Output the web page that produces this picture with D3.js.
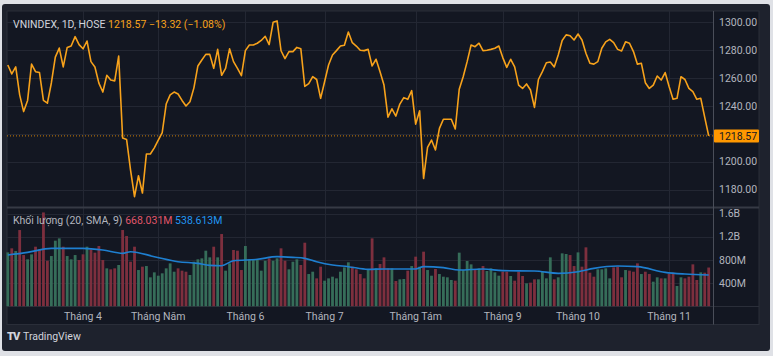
<!DOCTYPE html>
<html><head><meta charset="utf-8">
<script src="https://cdn.jsdelivr.net/npm/d3@7"></script>
<style>
html,body{margin:0;padding:0;background:#dfe1e6;}
svg{display:block;font-family:Roboto,"Liberation Sans",sans-serif;}
</style></head><body>
<svg id="c" width="773" height="356"></svg>
<script>
// Daily closes of VNINDEX (one per trading day, Mar 5 – Nov 15)
const closes = [
1269.4,1263,1268,1248,1236,1244,1270,1264.6,1264,1244,
1242,1256.5,1275,1281.5,1268,1282,1283,1289.7,1284,1281,
1286.6,1271.8,1268,1256.4,1250,1262,1258.6,1258,1275.8,1217,
1216,1194,1175,1190,1177.6,1205.6,1205.6,1210,1215.6,1221,
1241.4,1248,1250,1248.6,1244,1240,1243,1253,1268.7,1273,
1277,1277,1267,1280.6,1262,1267,1281,1271.8,1267,1261.7,
1279.7,1283.7,1283.7,1285,1287,1290,1284,1300,1301,1279.6,
1274,1279,1279,1282,1281,1254,1256,1261,1259,1245.5,
1257.4,1269.4,1276.6,1279.7,1283,1283.5,1293,1285.4,1283,1280,
1279.7,1280.6,1268.7,1273.5,1264.6,1255,1232,1238,1232.8,1241.4,
1246,1244.8,1251,1227,1236.6,1188,1210.4,1215.6,1208.5,1224,
1230.5,1230.5,1230.5,1223.5,1252,1261,1271.8,1283.7,1282.5,1285,
1279.7,1280,1280.6,1281.4,1283,1274.7,1267.7,1273.5,1268,1255,
1252.6,1255.8,1251.5,1239,1259,1264.6,1271,1271.5,1268,1276.6,
1287,1291,1290.4,1287.3,1291.6,1287.3,1277.8,1270.6,1270,1271.8,
1281.4,1286,1287.8,1285.4,1280.6,1279.4,1286,1285,1279,1270,
1270.6,1256.7,1252.6,1255,1261.5,1258.6,1264,1254,1244.8,1245.5,
1261,1259,1252.6,1250.3,1244.8,1245.5,1231.89,1218.57
];
// Daily volume, millions of shares
const volumes = [
930,1000,953,1316,884,810,896,1028,982,1620,
786,867,1132,1172,1028,867,810,884,798,896,
1028,982,925,1040,798,654,637,654,712,1316,
1212,769,1028,625,683,694,499,585,527,568,
654,740,596,654,614,596,539,769,810,827,
959,844,1028,844,1247,614,740,971,959,625,
1040,810,810,810,614,786,827,786,827,1000,
786,637,769,810,712,1097,556,596,481,683,
441,481,510,481,596,671,758,683,637,556,
481,625,1172,654,729,844,654,654,435,464,
470,614,694,856,683,942,625,527,643,556,
510,499,453,441,925,625,781,723,625,654,
694,608,654,585,527,596,596,522,441,596,
522,395,407,464,464,596,481,844,464,499,
913,902,884,694,930,683,1017,579,510,637,
637,654,481,671,683,499,625,614,596,740,
556,596,556,424,499,481,481,556,579,349,
499,481,510,723,453,585,579,668.031
];
// Volume moving average, read at selected bars (bar index, millions)
const maIdx  = [0,5,11,19,24,29,31,37,43,48,51,54,57,63,68,72,75,78,82,86,91,95,103,105,110,114,120,125,133,139,144,148,154,159,166,171,177];
const maVals = [884,930,1000,1000,971,913,942,856,769,740,705,700,786,810,856,844,827,769,712,683,637,643,643,683,666,625,643,614,608,568,596,654,694,683,585,556,538.613];

const monthIdx    = [19,38,60,80,103,125,144,167];
const monthLabels = ["Tháng 4","Tháng Năm","Tháng 6","Tháng 7","Tháng Tám","Tháng 9","Tháng 10","Tháng 11"];
const priceTicks  = [1180,1200,1220,1240,1260,1280,1300];
const volTicks    = [400,800,1200,1600];
const volTickLabels = ["400M","800M","1.2B","1.6B"];

const lastClose = closes[closes.length-1];
const prevClose = closes[closes.length-2];
const lastVol = volumes[volumes.length-1];
const lastMA = maVals[maVals.length-1];

const svg = d3.select("#c");
const L=7, R=713, AX=759, TOP=11, PB=207.5, VB=306.5, TB=324.5;

// frame
svg.append("rect").attr("x",2).attr("y",4).attr("width",768).attr("height",347).attr("rx",3).attr("fill","#1e222d");
svg.append("rect").attr("x",L).attr("y",TOP).attr("width",AX-L).attr("height",TB-TOP).attr("fill","#131722");
svg.append("rect").attr("x",L).attr("y",TOP).attr("width",AX-L).attr("height",TB-TOP).attr("fill","none").attr("stroke","#2a2e39");

const x = d3.scaleLinear().domain([0,closes.length-1]).range([7.8,708.7]);
const yP = d3.scaleLinear().domain([1180,1300]).range([189.7,22.3]);
const yV = d3.scaleLinear().domain([0,1600]).range([306.2,213.6]);

const grid = svg.append("g").attr("stroke","#232733").attr("stroke-width",1);
monthIdx.forEach(i=>{
  const gx=Math.round(x(i))+0.5;
  grid.append("line").attr("x1",gx).attr("x2",gx).attr("y1",TOP).attr("y2",VB);
});
priceTicks.forEach(v=>{
  const gy=Math.round(yP(v))+0.5;
  grid.append("line").attr("x1",L).attr("x2",R).attr("y1",gy).attr("y2",gy);
});
volTicks.forEach(v=>{
  const gy=Math.round(yV(v))+0.5;
  grid.append("line").attr("x1",L).attr("x2",R).attr("y1",gy).attr("y2",gy);
});

// separators
svg.append("line").attr("x1",L).attr("x2",AX).attr("y1",PB).attr("y2",PB).attr("stroke","#363a45").attr("stroke-width",2);
svg.append("line").attr("x1",L).attr("x2",AX).attr("y1",VB).attr("y2",VB).attr("stroke","#2a2e39");
svg.append("line").attr("x1",R+0.5).attr("x2",R+0.5).attr("y1",TOP).attr("y2",TB).attr("stroke","#4a4e59");

// volume bars
const bw=2.8;
svg.append("g").selectAll("rect").data(volumes).join("rect")
  .attr("x",(d,i)=>x(i)-bw/2).attr("width",bw)
  .attr("y",d=>yV(d)).attr("height",d=>yV(0)-yV(d))
  .attr("fill",(d,i)=> (i===0 || closes[i]>=closes[i-1]) ? "#366d59" : "#7d2f3e");

// volume MA
svg.append("path").datum(maIdx.map((d,k)=>[d,maVals[k]]))
  .attr("d",d3.line().x(d=>x(d[0])).y(d=>yV(d[1])).curve(d3.curveMonotoneX))
  .attr("fill","none").attr("stroke","#1e7fd0").attr("stroke-width",1.6);

// last price dotted line
svg.append("line").attr("x1",L).attr("x2",R).attr("y1",yP(lastClose)).attr("y2",yP(lastClose))
  .attr("stroke","#ff9800").attr("stroke-dasharray","1,2").attr("opacity",0.8);

// price line
svg.append("path").datum(closes)
  .attr("d",d3.line().x((d,i)=>x(i)).y(d=>yP(d)))
  .attr("fill","none").attr("stroke","#f7a21b").attr("stroke-width",1.6).attr("stroke-linejoin","round");

// right axis labels
const axT = svg.append("g").attr("fill","#b2b5be").attr("font-size",10.5);
priceTicks.filter(v=>Math.abs(v-lastClose)>8).forEach(v=>{
  axT.append("text").attr("x",719).attr("y",yP(v)).attr("dy","0.35em").text(d3.format(".2f")(v));
});
volTicks.forEach((v,k)=>{
  axT.append("text").attr("x",719).attr("y",yV(v)).attr("dy","0.35em").text(volTickLabels[k]);
});
// last price label
svg.append("rect").attr("x",714).attr("y",yP(lastClose)-6.5).attr("width",45).attr("height",13).attr("rx",1).attr("fill","#ff9800");
svg.append("text").attr("x",719).attr("y",yP(lastClose)).attr("dy","0.35em").attr("font-size",10.5).attr("fill","#131722").text(d3.format(".2f")(lastClose));

// time axis labels
const tl = svg.append("g").attr("fill","#b2b5be").attr("font-size",10.5).attr("text-anchor","middle");
monthIdx.forEach((i,k)=>{
  tl.append("text").attr("x",x(i)).attr("y",316).attr("dy","0.35em").text(monthLabels[k]);
});

// legend top
const chg = lastClose-prevClose, pct = chg/prevClose*100;
const lg = svg.append("text").attr("x",13).attr("y",24).attr("dy","0.35em").attr("font-size",10.5);
lg.append("tspan").attr("fill","#d1d4dc").text("VNINDEX, 1D, HOSE ");
lg.append("tspan").attr("fill","#f7a21b").text(d3.format(".2f")(lastClose)+" ");
lg.append("tspan").attr("fill","#f7a21b").text("\u2212"+d3.format(".2f")(-chg)+" (\u2212"+d3.format(".2f")(-pct)+"%)");

// volume legend
const vl = svg.append("text").attr("x",13).attr("y",220).attr("dy","0.35em").attr("font-size",10.5);
vl.append("tspan").attr("fill","#b2b5be").text("Khối lượng (20, SMA, 9) ");
vl.append("tspan").attr("fill","#e0566a").text(d3.format(".3f")(lastVol)+"M ");
vl.append("tspan").attr("fill","#2196f3").text(d3.format(".3f")(lastMA)+"M");

// TradingView logo
const lo = svg.append("g").attr("fill","#d1d4dc");
lo.append("text").attr("x",7).attr("y",336).attr("dy","0.35em").attr("font-size",11).attr("font-weight",900).attr("letter-spacing",-1).text("TV");
lo.append("text").attr("x",23).attr("y",336).attr("dy","0.35em").attr("font-size",10.5).text("TradingView");
</script>
</body></html>
